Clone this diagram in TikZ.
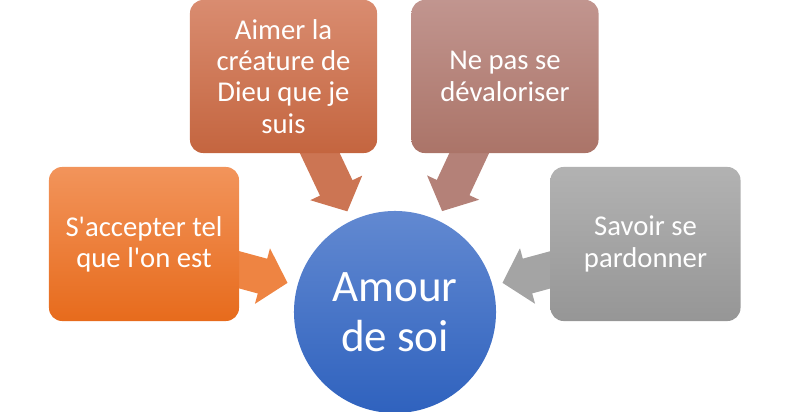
\documentclass[tikz,border=0pt]{standalone}
\usepackage{fontspec}
\setmainfont{Carlito}
\usetikzlibrary{arrows.meta,backgrounds}
\definecolor{accepttop}{HTML}{F2945B}
\definecolor{acceptbot}{HTML}{E76B1C}
\definecolor{aimertop}{HTML}{D98C70}
\definecolor{aimerbot}{HTML}{C4653F}
\definecolor{devaltop}{HTML}{C1958F}
\definecolor{devalbot}{HTML}{AB7468}
\definecolor{pardontop}{HTML}{B2B2B2}
\definecolor{pardonbot}{HTML}{969696}
\definecolor{amourtop}{HTML}{6289D1}
\definecolor{amourbot}{HTML}{2F62BE}

\begin{document}
\begin{tikzpicture}[x=0.025cm,y=-0.025cm,
  box/.style={rounded corners=0.33cm,minimum width=4.75cm,minimum height=3.85cm,
              align=center,text=white,inner sep=0pt,
              font=\fontsize{20.4}{22.2}\selectfont},
  topbox/.style={box,minimum width=4.675cm,minimum height=3.825cm},
  centre/.style={circle,minimum size=5.05cm,inner sep=0pt,align=center,text=white,
              font=\fontsize{32}{35.5}\selectfont,top color=amourtop,bottom color=amourbot},
  flow/.style={line width=0.9cm,-{Triangle[length=0.65cm,width=1.4cm]},shorten >=0.25cm}
]
  \useasboundingbox (0,0) rectangle (789,412);

  % Centre
  \node[centre] (amour) at (395,312) {Amour\\de soi};

  % Surrounding boxes
  \node[box,top color=accepttop,bottom color=acceptbot] (accepter) at (144,244)
       {S\textquotesingle accepter tel\\que l\textquotesingle on est};
  \node[topbox,top color=aimertop,bottom color=aimerbot] (aimer) at (283.5,76.5)
       {Aimer la\\créature de\\Dieu que je\\suis};
  \node[topbox,top color=devaltop,bottom color=devalbot] (devaloriser) at (505,76.5)
       {Ne pas se\\dévaloriser};
  \node[box,top color=pardontop,bottom color=pardonbot] (pardonner) at (645.5,244)
       {Savoir se\\pardonner};

  % Arrows
  \begin{scope}[on background layer]
    \draw[flow,draw=accepttop!60!acceptbot] (accepter.center) -- (amour);
    \draw[flow,draw=aimertop!40!aimerbot] (aimer.center) -- (amour);
    \draw[flow,draw=devaltop!40!devalbot] (devaloriser.center) -- (amour);
    \draw[flow,draw=pardontop!50!pardonbot] (pardonner.center) -- (amour);
  \end{scope}
\end{tikzpicture}
\end{document}
